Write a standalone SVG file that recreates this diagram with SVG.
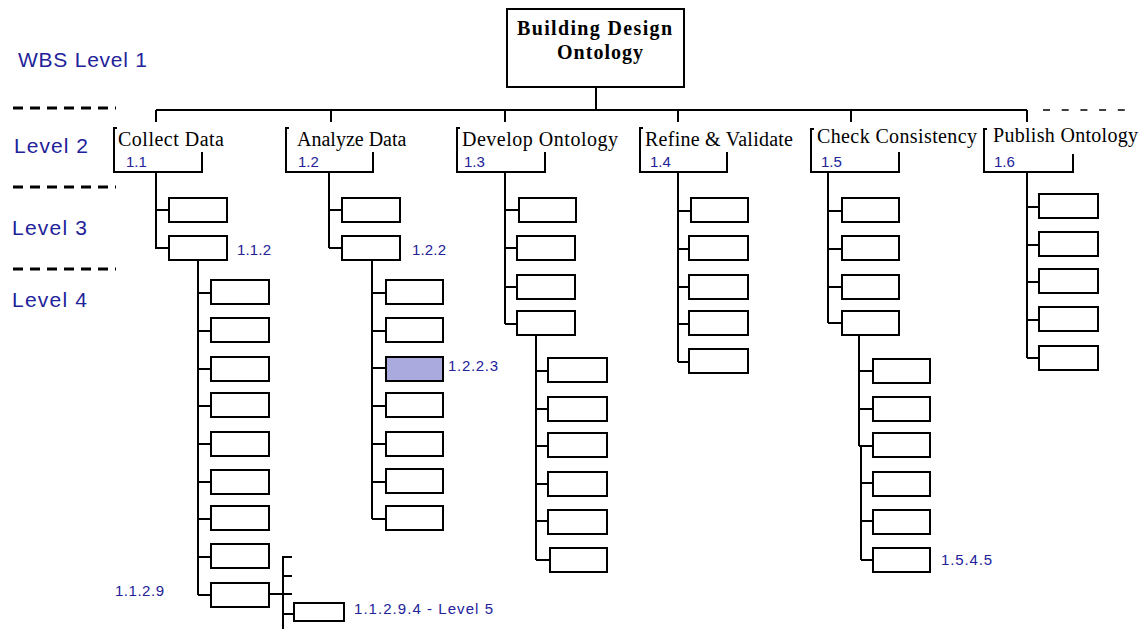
<svg xmlns="http://www.w3.org/2000/svg" width="1145" height="629" viewBox="0 0 1145 629">
<style>
.bx{fill:#fff;stroke:#000;stroke-width:2}
.hl{fill:#aaaade;stroke:#000;stroke-width:2}
.ln{fill:none;stroke:#000;stroke-width:2}
.dl{fill:none;stroke:#000;stroke-width:3;stroke-dasharray:10 7}
.dr{fill:none;stroke:#000;stroke-width:1.5;stroke-dasharray:7 11.7}
.lvl{font-family:"Liberation Sans",Arial,sans-serif;font-size:21px;fill:#22229a}
.num{font-family:"Liberation Sans",Arial,sans-serif;font-size:15px;fill:#22229a}
.t2{font-family:"Liberation Serif","Times New Roman",serif;font-size:20px;fill:#000}
.t1{font-family:"Liberation Serif","Times New Roman",serif;font-size:20px;font-weight:bold;fill:#000}
</style>
<rect width="1145" height="629" fill="#fff"/>

<g id="level-labels">
<text class="lvl" x="18" y="67" textLength="129">WBS Level  1</text>
<text class="lvl" x="14" y="153" textLength="74">Level  2</text>
<text class="lvl" x="12" y="235" textLength="75">Level  3</text>
<text class="lvl" x="12" y="307" textLength="75">Level  4</text>
<path class="dl" d="M13,108H116M13,187H116M13,269H116"/>
</g>

<g id="connectors">
<path class="ln" d="M596,87V110M156,110H1027M156,110V122M331,110V122M505,110V122M678,110V122M851,110V122M1027,110V122"/>
<path class="dr" d="M1043,110H1126"/>
<!-- level 3 -->
<path class="ln" d="M156,172V249M156,210H172M156,248H172"/>
<path class="ln" d="M329,172V248M329,210H345M329,248H345"/>
<path class="ln" d="M505,172V324M505,210H521M505,248H520M505,287H520M505,324H520"/>
<path class="ln" d="M678,172V362M678,211H693M678,249H692M678,287H692M678,324H692M678,362H692"/>
<path class="ln" d="M828,173V323M828,211H844M828,249H844M828,287H844M828,323H844"/>
<path class="ln" d="M1027,172V358M1027,207H1041M1027,245H1041M1027,282H1041M1027,320H1041M1027,358H1041"/>
<!-- level 4 -->
<path class="ln" d="M198,260V595M198,293H214M198,331H214M198,369H214M198,406H214M198,444H214M198,482H214M198,519H214M198,557H214M198,595H214"/>
<path class="ln" d="M372,260V519M372,293H388M372,331H388M372,368H388M372,406H388M372,444H388M372,482H388M372,519H388"/>
<path class="ln" d="M536,335V560M536,371H551M536,409H551M536,446H551M536,484H551M536,521H551M536,560H553"/>
<path class="ln" d="M859,334V446M861,446V560M859,371H876M859,409H876M859,446H876M861,483H876M861,521H876M861,560H876"/>
<!-- level 5 -->
<path class="ln" d="M269,594H283M283,556V629M283,557H292M283,576H292M283,594H292M283,614H295"/>
</g>

<g id="n1">
<rect class="bx" x="507" y="9" width="177" height="78"/>
<text class="t1" x="517" y="35" textLength="155">Building Design</text>
<text class="t1" x="557" y="59" textLength="86">Ontology</text>
</g>

<g id="n1-1">
<path class="ln" d="M117,128H114V172H202V152"/>
<text class="t2" x="118" y="146" textLength="106">Collect Data</text>
<text class="num" x="126" y="167">1.1</text>
</g>
<g id="n1-2">
<path class="ln" d="M289,128H286V172H373V152"/>
<text class="t2" x="297" y="146">Analyze Data</text>
<text class="num" x="298" y="167">1.2</text>
</g>
<g id="n1-3">
<path class="ln" d="M460,128H457V172H545V152"/>
<text class="t2" x="462" y="146" textLength="156">Develop Ontology</text>
<text class="num" x="464" y="167">1.3</text>
</g>
<g id="n1-4">
<path class="ln" d="M643,128H640V172H727V152"/>
<text class="t2" x="645" y="146" textLength="148">Refine &amp; Validate</text>
<text class="num" x="650" y="167">1.4</text>
</g>
<g id="n1-5">
<path class="ln" d="M814,129H811V172H899V152"/>
<text class="t2" x="817" y="143" textLength="160">Check Consistency</text>
<text class="num" x="821" y="167">1.5</text>
</g>
<g id="n1-6">
<path class="ln" d="M987,129H984V172H1073V154"/>
<text class="t2" x="993" y="142" textLength="145">Publish Ontology</text>
<text class="num" x="994" y="167">1.6</text>
</g>

<g id="n1-1-1"><rect class="bx" x="169" y="198" width="58" height="24"/></g>
<g id="n1-1-2"><rect class="bx" x="169" y="236" width="58" height="24"/><text class="num" x="237" y="255" textLength="34">1.1.2</text></g>
<g id="n1-2-1"><rect class="bx" x="342" y="198" width="58" height="24"/></g>
<g id="n1-2-2"><rect class="bx" x="342" y="236" width="58" height="24"/><text class="num" x="412" y="255" textLength="34">1.2.2</text></g>
<g id="n1-3-1"><rect class="bx" x="519" y="198" width="57" height="24"/></g>
<g id="n1-3-2"><rect class="bx" x="517" y="236" width="58" height="24"/></g>
<g id="n1-3-3"><rect class="bx" x="517" y="275" width="58" height="24"/></g>
<g id="n1-3-4"><rect class="bx" x="517" y="311" width="58" height="24"/></g>
<g id="n1-4-1"><rect class="bx" x="691" y="198" width="57" height="24"/></g>
<g id="n1-4-2"><rect class="bx" x="689" y="236" width="59" height="24"/></g>
<g id="n1-4-3"><rect class="bx" x="689" y="275" width="59" height="24"/></g>
<g id="n1-4-4"><rect class="bx" x="689" y="311" width="59" height="24"/></g>
<g id="n1-4-5"><rect class="bx" x="689" y="349" width="59" height="24"/></g>
<g id="n1-5-1"><rect class="bx" x="842" y="198" width="57" height="24"/></g>
<g id="n1-5-2"><rect class="bx" x="842" y="236" width="57" height="24"/></g>
<g id="n1-5-3"><rect class="bx" x="842" y="275" width="57" height="24"/></g>
<g id="n1-5-4"><rect class="bx" x="842" y="311" width="57" height="24"/></g>
<g id="n1-6-1"><rect class="bx" x="1039" y="194" width="59" height="24"/></g>
<g id="n1-6-2"><rect class="bx" x="1039" y="232" width="59" height="24"/></g>
<g id="n1-6-3"><rect class="bx" x="1039" y="269" width="59" height="24"/></g>
<g id="n1-6-4"><rect class="bx" x="1039" y="307" width="59" height="24"/></g>
<g id="n1-6-5"><rect class="bx" x="1039" y="346" width="59" height="24"/></g>

<g id="n1-1-2-1"><rect class="bx" x="211" y="280" width="58" height="24"/></g>
<g id="n1-1-2-2"><rect class="bx" x="211" y="318" width="58" height="24"/></g>
<g id="n1-1-2-3"><rect class="bx" x="211" y="357" width="58" height="24"/></g>
<g id="n1-1-2-4"><rect class="bx" x="211" y="393" width="58" height="24"/></g>
<g id="n1-1-2-5"><rect class="bx" x="211" y="432" width="58" height="24"/></g>
<g id="n1-1-2-6"><rect class="bx" x="211" y="470" width="58" height="24"/></g>
<g id="n1-1-2-7"><rect class="bx" x="211" y="506" width="58" height="24"/></g>
<g id="n1-1-2-8"><rect class="bx" x="211" y="544" width="58" height="24"/></g>
<g id="n1-1-2-9"><rect class="bx" x="211" y="583" width="58" height="24"/><text class="num" x="115" y="596" textLength="49">1.1.2.9</text></g>
<g id="n1-1-2-9-4"><rect class="bx" x="294" y="603" width="50" height="18"/><text class="num" x="354" y="614" textLength="139">1.1.2.9.4 -  Level 5</text></g>

<g id="n1-2-2-1"><rect class="bx" x="386" y="280" width="57" height="24"/></g>
<g id="n1-2-2-2"><rect class="bx" x="386" y="318" width="57" height="24"/></g>
<g id="n1-2-2-3"><rect class="hl" x="386" y="357" width="57" height="24"/><text class="num" x="448" y="371" textLength="50">1.2.2.3</text></g>
<g id="n1-2-2-4"><rect class="bx" x="386" y="393" width="57" height="24"/></g>
<g id="n1-2-2-5"><rect class="bx" x="386" y="432" width="57" height="24"/></g>
<g id="n1-2-2-6"><rect class="bx" x="386" y="469" width="57" height="24"/></g>
<g id="n1-2-2-7"><rect class="bx" x="386" y="506" width="57" height="24"/></g>

<g id="n1-3-4-1"><rect class="bx" x="548" y="358" width="59" height="24"/></g>
<g id="n1-3-4-2"><rect class="bx" x="548" y="397" width="59" height="24"/></g>
<g id="n1-3-4-3"><rect class="bx" x="548" y="433" width="59" height="24"/></g>
<g id="n1-3-4-4"><rect class="bx" x="548" y="472" width="59" height="24"/></g>
<g id="n1-3-4-5"><rect class="bx" x="548" y="510" width="59" height="24"/></g>
<g id="n1-3-4-6"><rect class="bx" x="550" y="548" width="57" height="24"/></g>

<g id="n1-5-4-1"><rect class="bx" x="873" y="359" width="57" height="24"/></g>
<g id="n1-5-4-2"><rect class="bx" x="873" y="397" width="57" height="24"/></g>
<g id="n1-5-4-3"><rect class="bx" x="873" y="433" width="57" height="24"/></g>
<g id="n1-5-4-4"><rect class="bx" x="873" y="472" width="57" height="24"/></g>
<g id="n1-5-4-5"><rect class="bx" x="873" y="510" width="57" height="24"/></g>
<g id="n1-5-4-6"><rect class="bx" x="873" y="548" width="57" height="24"/><text class="num" x="941" y="565" textLength="51">1.5.4.5</text></g>
</svg>
